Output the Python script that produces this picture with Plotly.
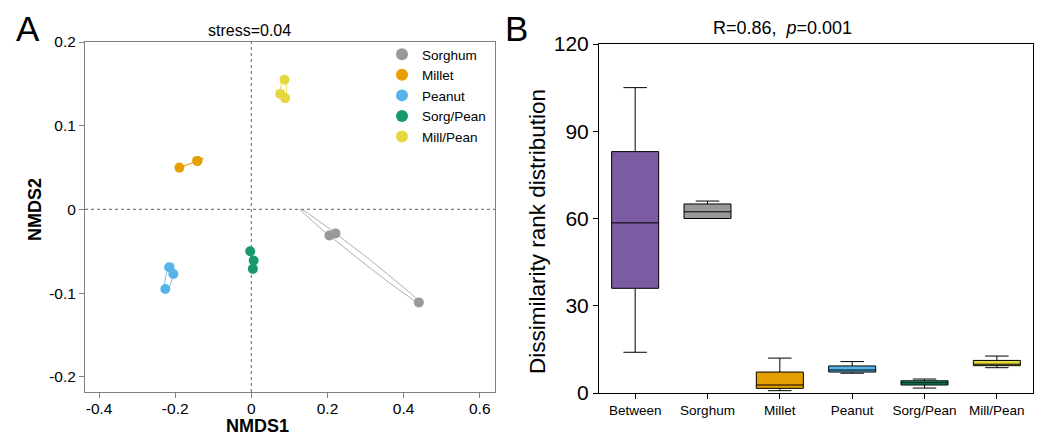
import numpy as np
import plotly.graph_objects as go

# ---------------- Panel A data (NMDS) ----------------
groups = ["Sorghum", "Millet", "Peanut", "Sorg/Pean", "Mill/Pean"]
group_colors = ["#999999", "#E69F00", "#56B4E9", "#17996A", "#E6D840"]
nmds1 = {
    "Sorghum": [0.205, 0.221, 0.440],
    "Millet": [-0.189, -0.142, -0.142],
    "Peanut": [-0.216, -0.205, -0.226],
    "Sorg/Pean": [-0.003, 0.006, 0.004],
    "Mill/Pean": [0.087, 0.076, 0.089],
}
nmds2 = {
    "Sorghum": [-0.031, -0.0286, -0.111],
    "Millet": [0.050, 0.058, 0.058],
    "Peanut": [-0.069, -0.077, -0.095],
    "Sorg/Pean": [-0.050, -0.061, -0.071],
    "Mill/Pean": [0.155, 0.138, 0.133],
}
a_xticks = [-0.4, -0.2, 0, 0.2, 0.4, 0.6]
a_xticktext = ["-0.4", "-0.2", "0", "0.2", "0.4", "0.6"]
a_yticks = [-0.2, -0.1, 0, 0.1, 0.2]
a_yticktext = ["-0.2", "-0.1", "0", "0.1", "0.2"]

# ---------------- Panel B data (box stats) ----------------
categories = ["Between", "Sorghum", "Millet", "Peanut", "Sorg/Pean", "Mill/Pean"]
box_colors = ["#7B5CA2", "#999999", "#E69F00", "#56B4E9", "#17996A", "#E6D840"]
lower = [14, 60, 0.8, 6.8, 1.7, 8.7]
q1 = [36, 60, 1.6, 7.2, 2.75, 9.4]
median = [58.5, 62.3, 2.75, 7.9, 3.5, 9.9]
q3 = [83, 65, 7.2, 9.3, 4.2, 11.2]
upper = [105, 66, 12, 10.8, 4.8, 12.7]
b_yticks = [0, 30, 60, 90, 120]

FONT = "Liberation Sans, Arial, sans-serif"
W, H = 1042, 436
OFF = 8  # page body margin


def px(sx):
    return (sx - OFF) / W


def py(sy):
    return 1 - (sy - OFF) / H


def ellipse(xs, ys, k=1.22, n=120):
    pts = np.column_stack([xs, ys])
    c = pts.mean(axis=0)
    cov = np.cov(pts.T)
    vals, vecs = np.linalg.eigh(cov)
    vals = np.clip(vals, 0, None)
    t = np.linspace(0, 2 * np.pi, n)
    circ = np.vstack([np.cos(t), np.sin(t)])
    e = vecs @ (np.sqrt(vals)[:, None] * circ) * k + c[:, None]
    return e[0], e[1]


fig = go.Figure()

# ellipses
for g, col in zip(groups, group_colors):
    ex, ey = ellipse(nmds1[g], nmds2[g])
    fig.add_trace(go.Scatter(x=ex, y=ey, mode="lines", line=dict(color=col, width=0.8),
                             showlegend=False, hoverinfo="skip", xaxis="x", yaxis="y"))
# points
for g, col in zip(groups, group_colors):
    fig.add_trace(go.Scatter(x=nmds1[g], y=nmds2[g], mode="markers", name=g,
                             marker=dict(color=col, size=10, line=dict(width=0)),
                             xaxis="x", yaxis="y"))

# boxes
for cat, col, lo, a, m, b, hi in zip(categories, box_colors, lower, q1, median, q3, upper):
    fig.add_trace(go.Box(x=[cat], q1=[a], median=[m], q3=[b], lowerfence=[lo], upperfence=[hi],
                         fillcolor=col, line=dict(color="black", width=1), width=0.65,
                         whiskerwidth=0.5, showlegend=False, xaxis="x2", yaxis="y2",
                         boxpoints=False))

axA = dict(showline=True, linecolor="#808080", linewidth=1, mirror=True, showgrid=False,
           zeroline=False, ticks="outside", ticklen=5, tickcolor="#808080", automargin=False,
           tickfont=dict(family=FONT, size=15.5, color="black"))
axB = dict(showline=True, linecolor="black", linewidth=1, mirror=True, showgrid=False,
           zeroline=False, ticks="outside", ticklen=5, tickcolor="black", automargin=False)

fig.update_layout(
    width=W, height=H, margin=dict(l=0, r=0, t=0, b=0, autoexpand=False),
    paper_bgcolor="white", plot_bgcolor="white",
    font=dict(family=FONT, color="black"),
    xaxis=dict(axA, domain=[px(85), px(495)], range=[-0.437, 0.64], anchor="y",
               tickvals=a_xticks, ticktext=a_xticktext, ticklabelstandoff=-3),
    yaxis=dict(axA, domain=[py(392), py(42)], range=[-0.218, 0.2], anchor="x",
               tickvals=a_yticks, ticktext=a_yticktext),
    xaxis2=dict(axB, domain=[px(599), px(1033)], range=[-0.5, 5.5], anchor="y2",
                type="category", tickfont=dict(family=FONT, size=13.5, color="black")),
    yaxis2=dict(axB, domain=[py(393), py(44)], range=[0, 120], anchor="x2",
                tickvals=b_yticks, tickfont=dict(family=FONT, size=21, color="black")),
    legend=dict(x=px(382), y=py(39), xanchor="left", yanchor="top",
                bgcolor="rgba(0,0,0,0)", font=dict(family=FONT, size=13.5),
                itemsizing="constant", tracegroupgap=0),
    shapes=[
        dict(type="line", xref="x", yref="y domain", x0=0, x1=0, y0=0, y1=1,
             line=dict(color="#808080", width=1.2, dash="dot"), layer="below"),
        dict(type="line", xref="x domain", yref="y", x0=0, x1=1, y0=0, y1=0,
             line=dict(color="#808080", width=1.2, dash="dot"), layer="below"),
    ],
    annotations=[
        dict(text="A", x=px(28), y=py(29), xref="paper", yref="paper", showarrow=False,
             font=dict(size=35, family=FONT), xanchor="center", yanchor="middle"),
        dict(text="B", x=px(516), y=py(29), xref="paper", yref="paper", showarrow=False,
             font=dict(size=35, family=FONT), xanchor="center", yanchor="middle"),
        dict(text="stress=0.04", x=px(249), y=py(30), xref="paper", yref="paper",
             showarrow=False, font=dict(size=16, family=FONT), xanchor="center", yanchor="middle"),
        dict(text="<b>NMDS1</b>", x=px(257), y=py(426), xref="paper", yref="paper",
             showarrow=False, font=dict(size=18, family=FONT), xanchor="center", yanchor="middle"),
        dict(text="<b>NMDS2</b>", x=px(35), y=py(210), xref="paper", yref="paper",
             showarrow=False, font=dict(size=18, family=FONT), textangle=-90,
             xanchor="center", yanchor="middle"),
        dict(text="R=0.86,  <i>p</i>=0.001", x=px(782), y=py(28), xref="paper", yref="paper",
             showarrow=False, font=dict(size=18, family=FONT), xanchor="center", yanchor="middle"),
        dict(text="Dissimilarity rank distribution", x=px(537), y=py(232), xref="paper",
             yref="paper", showarrow=False, font=dict(size=22.5, family=FONT), textangle=-90,
             xanchor="center", yanchor="middle"),
    ],
)

fig.write_html("out.html")
